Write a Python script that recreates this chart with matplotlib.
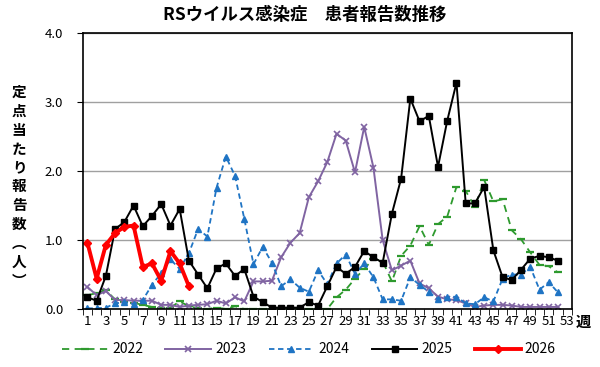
import matplotlib
matplotlib.use('Agg')
import matplotlib.pyplot as plt
import numpy as np

plt.rcParams['font.family'] = ['Noto Sans CJK JP', 'DejaVu Sans']

# 定点当たり報告数 (週別)
weeks = np.arange(1, 54)

y2022 = [0.20, 0.23, 0.27, 0.14, 0.10, 0.09, 0.06, 0.03, 0.02, 0.02,
         0.11, 0.04, 0.01, 0.00, 0.02, 0.00, 0.04, 0.00, 0.00, 0.00,
         0.00, 0.00, 0.00, 0.00, 0.00, 0.00, 0.00, 0.17, 0.28, 0.44,
         0.58, 0.73, 0.69, 0.40, 0.77, 0.92, 1.20, 0.93, 1.23, 1.34,
         1.77, 1.71, 1.48, 1.87, 1.56, 1.59, 1.14, 1.01, 0.82, 0.64,
         0.62, 0.53]
y2023 = [0.32, 0.20, 0.26, 0.13, 0.13, 0.12, 0.12, 0.12, 0.06, 0.06,
         0.03, 0.05, 0.06, 0.07, 0.12, 0.08, 0.17, 0.11, 0.40, 0.40,
         0.41, 0.75, 0.96, 1.10, 1.62, 1.85, 2.13, 2.54, 2.44, 1.98,
         2.64, 2.05, 1.00, 0.56, 0.63, 0.70, 0.37, 0.30, 0.18, 0.14,
         0.13, 0.08, 0.03, 0.05, 0.06, 0.06, 0.05, 0.03, 0.03, 0.03,
         0.03, 0.03]
y2024 = [0.01, 0.01, 0.02, 0.08, 0.10, 0.07, 0.13, 0.35, 0.52, 0.72,
         0.58, 0.81, 1.16, 1.05, 1.76, 2.21, 1.93, 1.31, 0.65, 0.90,
         0.67, 0.33, 0.43, 0.31, 0.25, 0.56, 0.36, 0.66, 0.79, 0.51,
         0.66, 0.46, 0.14, 0.14, 0.12, 0.46, 0.35, 0.25, 0.14, 0.17,
         0.18, 0.08, 0.07, 0.17, 0.11, 0.44, 0.50, 0.50, 0.61, 0.28,
         0.39, 0.24]
y2025 = [0.17, 0.12, 0.48, 1.16, 1.26, 1.50, 1.20, 1.35, 1.52, 1.21,
         1.45, 0.70, 0.50, 0.30, 0.59, 0.66, 0.48, 0.58, 0.18, 0.10,
         0.02, 0.02, 0.02, 0.02, 0.10, 0.05, 0.33, 0.61, 0.51, 0.61,
         0.84, 0.75, 0.67, 1.38, 1.89, 3.05, 2.72, 2.80, 2.06, 2.73,
         3.28, 1.53, 1.53, 1.77, 0.85, 0.46, 0.42, 0.57, 0.73, 0.77,
         0.75, 0.70]
y2026 = [0.96, 0.44, 0.93, 1.10, 1.19, 1.21, 0.61, 0.66, 0.41, 0.84,
         0.66, 0.33]

fig = plt.figure(figsize=(6, 3.67), dpi=100)
ax = fig.add_axes([0.138, 0.158, 0.815, 0.752])

ax.plot(weeks[:len(y2022)], y2022, color='#2e9a2e', lw=1.3, ls=(0, (4, 3)),
        marker='_', ms=6, mew=1.6, label='2022')
ax.plot(weeks[:len(y2023)], y2023, color='#8064a2', lw=1.4,
        marker='x', ms=4, mew=1.2, label='2023')
ax.plot(weeks[:len(y2024)], y2024, color='#1f74c4', lw=1.3, ls=(0, (3, 2)),
        marker='^', ms=4.5, label='2024')
ax.plot(weeks[:len(y2025)], y2025, color='black', lw=1.4,
        marker='s', ms=4, label='2025')
ax.plot(weeks[:len(y2026)], y2026, color='#ff0000', lw=2.8,
        marker='D', ms=4.5, label='2026')

ax.set_xlim(0.5, 53.5)
ax.set_ylim(0, 4)
ax.set_xticks(range(1, 54, 2))
ax.set_xticks(np.arange(0.5, 54, 1), minor=True)
ax.tick_params(axis='x', which='major', length=0, labelsize=9.5, pad=4)
ax.tick_params(axis='x', which='minor', length=4, direction='out')
ax.set_yticks([0, 1, 2, 3, 4])
ax.set_yticklabels(['0.0', '1.0', '2.0', '3.0', '4.0'])
ax.tick_params(axis='y', length=4, labelsize=9.5, pad=10)
ax.grid(True, axis='y', color='#a0a0a0', lw=1)
for s in ax.spines.values():
    s.set_color('black')
    s.set_linewidth(1.2)

fig.text(0.508, 0.958, 'RSウイルス感染症　患者報告数推移', ha='center', va='center',
         fontsize=12.5, fontweight='bold')
fig.text(0.032, 0.492, '定\n点\n当\nた\nり\n報\n告\n数\n︵\n人\n︶', ha='center', va='center',
         fontsize=10.5, fontweight='bold', linespacing=1.22)
fig.text(0.972, 0.122, '週', ha='center', va='center', fontsize=11, fontweight='bold')

fig.legend(loc='center', bbox_to_anchor=(0.515, 0.048), ncol=5, frameon=False,
           handlelength=3.3, fontsize=10, columnspacing=1.6, handletextpad=0.3)

fig.savefig('out.png', dpi=100)
